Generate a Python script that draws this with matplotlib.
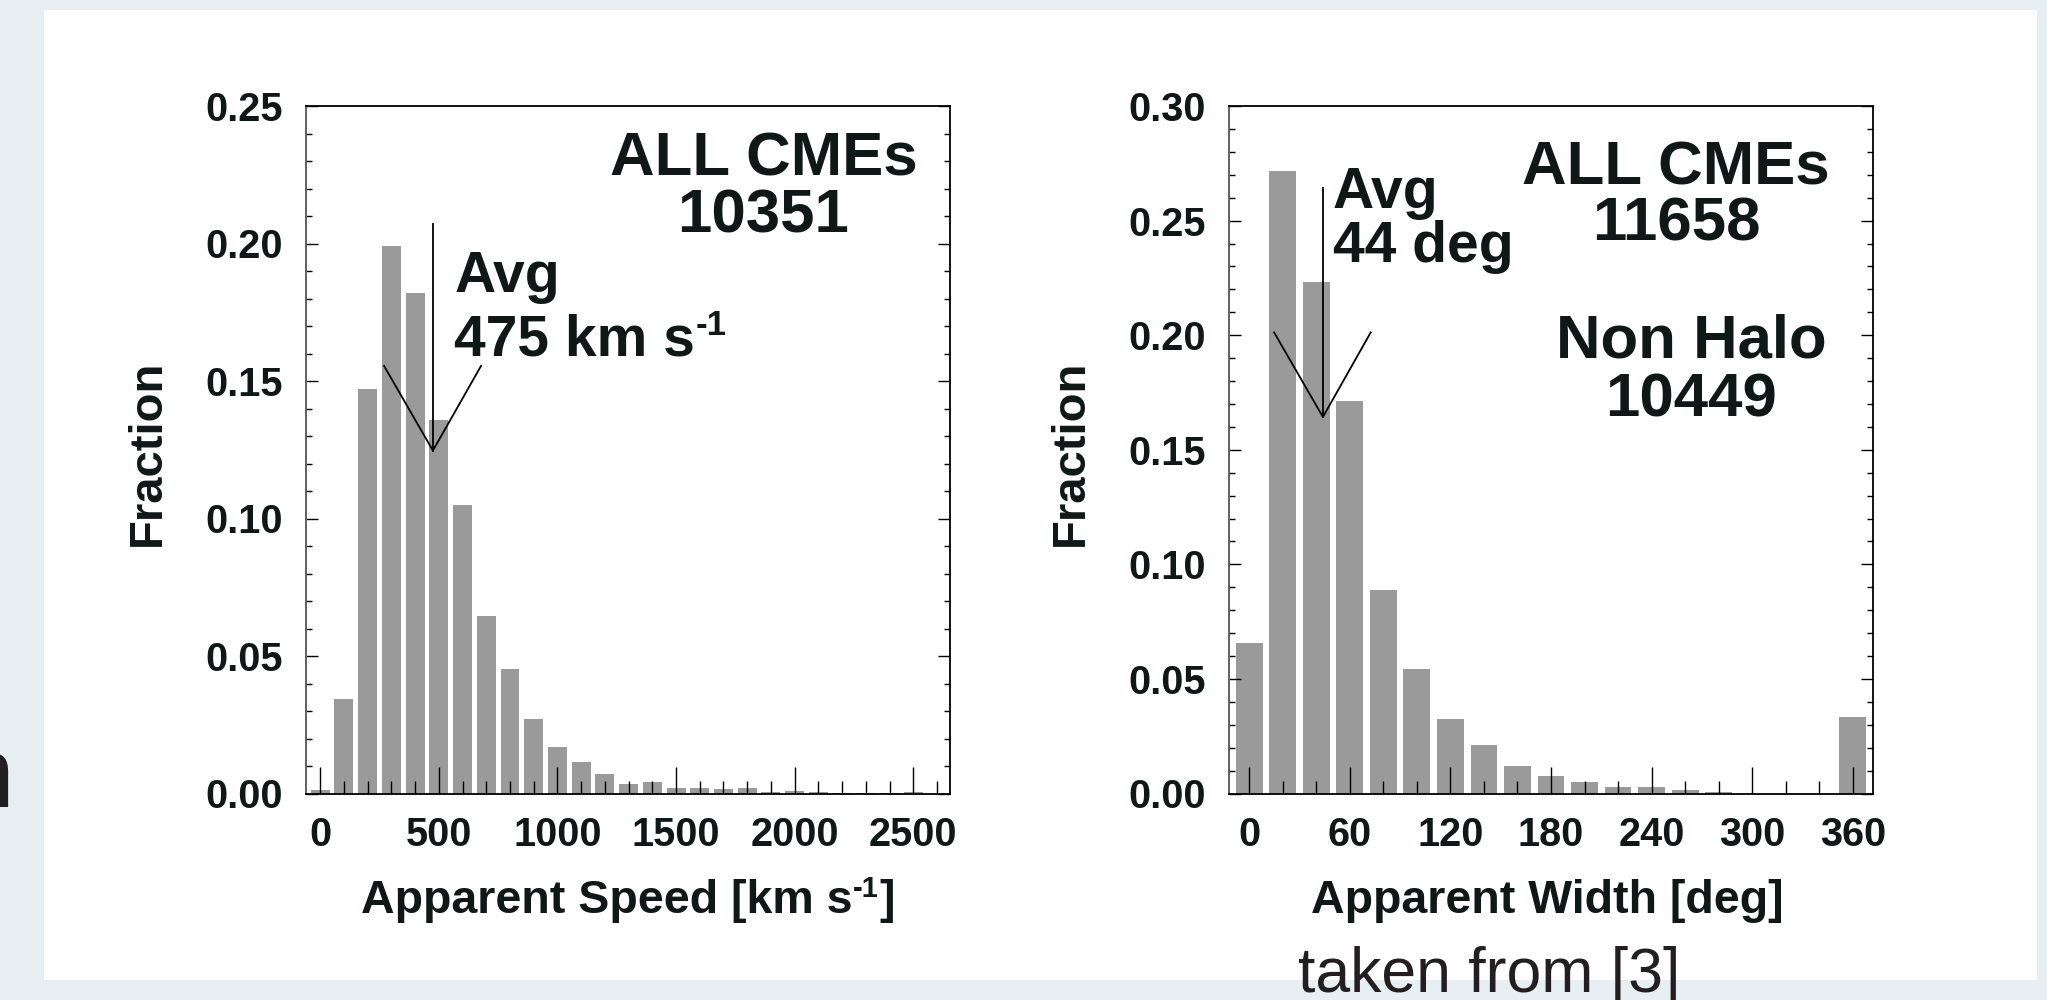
import matplotlib
matplotlib.use("Agg")
import matplotlib.pyplot as plt
from matplotlib.patches import Rectangle
from matplotlib.ticker import MultipleLocator, FixedLocator, FormatStrFormatter

plt.rcParams['font.family'] = ['Liberation Sans', 'DejaVu Sans']
plt.rcParams['font.weight'] = 'bold'
plt.rcParams['axes.labelweight'] = 'bold'

# ---------------- data ----------------
speed_bins = [0, 100, 200, 300, 400, 500, 600, 700, 800, 900, 1000, 1100, 1200,
              1300, 1400, 1500, 1600, 1700, 1800, 1900, 2000, 2100, 2200, 2300,
              2400, 2500, 2600]
speed_frac = [0.0014, 0.0343, 0.147, 0.199, 0.182, 0.136, 0.105, 0.0645, 0.0453,
              0.0271, 0.017, 0.0113, 0.007, 0.0034, 0.0043, 0.0021, 0.0021, 0.0017,
              0.0021, 0.0007, 0.001, 0.0005, 0.0002, 0.0001, 0.0001, 0.0005, 0.0]
speed_major = [0, 500, 1000, 1500, 2000, 2500]

width_bins = [0, 20, 40, 60, 80, 100, 120, 140, 160, 180, 200, 220, 240, 260, 280,
              300, 320, 340, 360]
width_frac = [0.0656, 0.2715, 0.223, 0.1712, 0.089, 0.0542, 0.0324, 0.021, 0.0119,
              0.0078, 0.0052, 0.0027, 0.0027, 0.0014, 0.0008, 0.0, 0.0, 0.0, 0.0335]
width_major = [0, 60, 120, 180, 240, 300, 360]

speed_avg = 475
width_avg = 44
# arrow geometry (data units): top of shaft, tip, arm ends
speed_arrow = dict(top=0.207, tip=0.1247, arm_l=269, arm_r=678, arm_y=0.1555)
width_arrow = dict(top=0.264, tip=0.1643, arm_l=14.9, arm_r=72.5, arm_y=0.2012)

TXT = '#0f1816'
BAR = '#9a9a9a'

fig = plt.figure(figsize=(20.47, 10), dpi=100, facecolor='#e7eff3')
fig.patches.append(Rectangle((44 / 2047, 0.02), (2037 - 44) / 2047, 0.97,
                             transform=fig.transFigure, facecolor='white',
                             edgecolor='none', zorder=-10))

H = 687.5 / 1000
B = 1 - 793.5 / 1000
W = 644 / 2047
ax1 = fig.add_axes([306 / 2047, B, W, H])
ax2 = fig.add_axes([1229 / 2047, B, W, H])


def style(ax, ymax, xminor):
    ax.set_ylim(0, ymax)
    ax.yaxis.set_major_locator(MultipleLocator(0.05))
    ax.yaxis.set_minor_locator(MultipleLocator(0.01))
    ax.yaxis.set_major_formatter(FormatStrFormatter('%.2f'))
    ax.xaxis.set_minor_locator(MultipleLocator(xminor))
    ax.tick_params(axis='x', which='major', direction='in', length=19.4, width=1.0,
                   pad=16, labelsize=28.5, top=False, colors='black', labelcolor=TXT)
    ax.tick_params(axis='x', which='minor', direction='in', length=9.4, width=1.0,
                   top=False, colors='black')
    ax.tick_params(axis='y', which='major', direction='in', length=8.6, width=1.0,
                   pad=16.5, labelsize=28.5, left=True, right=True, colors='black',
                   labelcolor=TXT)
    ax.tick_params(axis='y', which='minor', direction='in', length=4.3, width=1.0,
                   left=True, right=True, colors='black')
    for s in ax.spines.values():
        s.set_linewidth(1.3)
        s.set_color('black')
    ax.spines['left'].set_color('#555555')
    ax.set_ylabel('Fraction', fontsize=34, fontweight='bold', color=TXT)
    ax.yaxis.set_label_coords(-0.2453, 0.495)
    ax.yaxis.label.set_va('center')


# ---------------- left panel ----------------
ax1.bar(speed_bins, speed_frac, width=80, color=BAR, linewidth=0)
ax1.set_xlim(-60, 2655)
ax1.xaxis.set_major_locator(FixedLocator(speed_major))
style(ax1, 0.25, 100)

ax1.set_xlabel('Apparent Speed [km s', fontsize=33.5, fontweight='bold', color=TXT)
ax1.xaxis.set_label_coords(0.0854, -0.1738)
ax1.xaxis.label.set_ha('left')
ax1.xaxis.label.set_va('baseline')
xl = ax1.xaxis.label
sup1 = ax1.annotate('-1', xy=(1, 1), xycoords=xl, xytext=(0.5, 3),
                    textcoords='offset points', ha='left', va='top',
                    fontsize=21, fontweight='bold', color=TXT)
ax1.annotate(']', xy=(1, 0), xycoords=(sup1, xl), xytext=(0.5, 0),
             textcoords='offset points', ha='left', va='bottom',
             fontsize=33.5, fontweight='bold', color=TXT)

ax1.text(1868, 0.2247, 'ALL CMEs', fontsize=44.5, ha='center', va='baseline', color=TXT)
ax1.text(1868, 0.2041, '10351', fontsize=44.5, ha='center', va='baseline', color=TXT)
ax1.text(565, 0.1825, 'Avg', fontsize=41, ha='left', va='baseline', color=TXT)
t475 = ax1.text(565, 0.1594, '475 km s', fontsize=41, ha='left', va='baseline', color=TXT)
ax1.annotate('-1', xy=(1, 1), xycoords=t475, xytext=(0.5, 3),
             textcoords='offset points', ha='left', va='top', fontsize=25, color=TXT)

a = speed_arrow
ax1.plot([speed_avg, speed_avg], [a['top'], a['tip']], color='black', lw=1.3)
ax1.plot([a['arm_l'], speed_avg, a['arm_r']], [a['arm_y'], a['tip'], a['arm_y']],
         color='black', lw=1.3)

# ---------------- right panel ----------------
ax2.bar(width_bins, width_frac, width=16, color=BAR, linewidth=0)
ax2.set_xlim(-12, 372)
ax2.xaxis.set_major_locator(FixedLocator(width_major))
style(ax2, 0.30, 20)

ax2.set_xlabel('Apparent Width [deg]', fontsize=33.5, fontweight='bold', color=TXT)
ax2.xaxis.set_label_coords(0.4947, -0.1738)
ax2.xaxis.label.set_ha('center')
ax2.xaxis.label.set_va('baseline')

ax2.text(254.6, 0.2656, 'ALL CMEs', fontsize=44.5, ha='center', va='baseline', color=TXT)
ax2.text(254.6, 0.2412, '11658', fontsize=44.5, ha='center', va='baseline', color=TXT)
ax2.text(263.5, 0.1903, 'Non Halo', fontsize=44.5, ha='center', va='baseline', color=TXT)
ax2.text(263.5, 0.1645, '10449', fontsize=44.5, ha='center', va='baseline', color=TXT)
ax2.text(50, 0.2553, 'Avg', fontsize=41, ha='left', va='baseline', color=TXT)
ax2.text(50, 0.2320, '44 deg', fontsize=41, ha='left', va='baseline', color=TXT)

a = width_arrow
ax2.plot([width_avg, width_avg], [a['top'], a['tip']], color='black', lw=1.3)
ax2.plot([a['arm_l'], width_avg, a['arm_r']], [a['arm_y'], a['tip'], a['arm_y']],
         color='black', lw=1.3)

# ---------------- slide fragments ----------------
fig.text(1298 / 2047, 1 - 992 / 1000, 'taken from [3]', fontsize=45, weight='normal',
         ha='left', va='baseline', color='#231f20')
fig.text(14 / 2047, 1 - 807 / 1000, 'n', fontsize=72, weight='normal',
         ha='right', va='baseline', color='#231f20')

fig.savefig('out.png', dpi=100, facecolor=fig.get_facecolor())
